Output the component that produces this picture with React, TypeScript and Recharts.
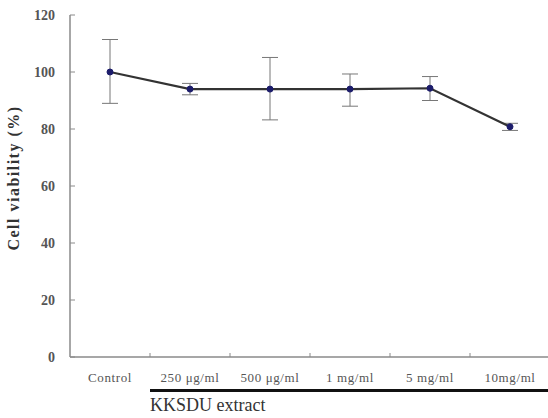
import React from 'react'
import { ComposedChart, Line, XAxis, YAxis, ErrorBar } from 'recharts'

const categories = ['Control', '250 μg/ml', '500 μg/ml', '1 mg/ml', '5 mg/ml', '10mg/ml']
const viability = [100, 94, 94, 94, 94.3, 80.8]
const lowerBound = [89, 92, 83.2, 88, 90, 79.5]
const upperBound = [111.4, 96, 105.1, 99.3, 98.4, 82]
const yTicks = [0, 20, 40, 60, 80, 100, 120]

const chartData = categories.map((name, i) => ({
  name,
  value: viability[i],
  err: [viability[i] - lowerBound[i], upperBound[i] - viability[i]]
}))

const FONT = '"Liberation Serif", "DejaVu Serif", serif'

const YTick = (props: any) => {
  const { x, y, payload } = props
  return (
    <g>
      <line x1={x + 15} x2={x + 20} y1={y} y2={y} stroke="#8a8a8a" strokeWidth={1} />
      <text x={x} y={y} dy={5} textAnchor="end" fontFamily={FONT} fontSize={14} fontWeight="bold" fill="#555">
        {payload.value}
      </text>
    </g>
  )
}

const XTick = (props: any) => {
  const { x, y, payload } = props
  return (
    <g>
      <line x1={x + 40} x2={x + 40} y1={y - 21} y2={y - 25} stroke="#8a8a8a" strokeWidth={1} />
      <text x={x} y={y} dy={4} textAnchor="middle" fontFamily={FONT} fontSize={13} letterSpacing={0.6} fill="#555">
        {payload.value}
      </text>
    </g>
  )
}

export default function App() {
  return (
    <div style={{ position: 'absolute', left: 0, top: 0, width: 548, height: 418, overflow: 'hidden', background: '#fff' }}>
      <ComposedChart width={550} height={418} data={chartData} margin={{ top: 15, right: 0, bottom: 31, left: 10 }}>
        <XAxis
          dataKey="name"
          padding={{ left: 40, right: 40 }}
          axisLine={{ stroke: '#8a8a8a', strokeWidth: 1.5 }}
          tickLine={false}
          tickSize={0}
          tickMargin={21}
          tick={<XTick />}
          interval={0}
        />
        <YAxis
          width={60}
          domain={[0, 120]}
          ticks={yTicks}
          axisLine={{ stroke: '#8a8a8a', strokeWidth: 1.5 }}
          tickLine={false}
          tickSize={0}
          tickMargin={15}
          tick={<YTick />}
          label={{
            value: 'Cell viability (%)',
            angle: -90,
            position: 'insideLeft',
            dx: -2,
            dy: -8,
            style: { fontFamily: FONT, fontSize: 16, fontWeight: 'bold', letterSpacing: 1.5, fill: '#333', textAnchor: 'middle' }
          }}
        />
        <Line
          dataKey="value"
          stroke="#333"
          strokeWidth={2.2}
          dot={{ r: 3, fill: '#1c1c6b', stroke: '#1c1c6b', strokeWidth: 1 }}
          isAnimationActive={false}
        >
          <ErrorBar dataKey="err" width={8} stroke="#777" strokeWidth={1} isAnimationActive={false} />
        </Line>
      </ComposedChart>
      <div style={{ position: 'absolute', left: 150, top: 389, width: 400, height: 3, background: '#111' }} />
      <div style={{ position: 'absolute', left: 150, top: 395, fontFamily: FONT, fontSize: 18, color: '#333', lineHeight: '20px' }}>
        KKSDU extract
      </div>
    </div>
  )
}
